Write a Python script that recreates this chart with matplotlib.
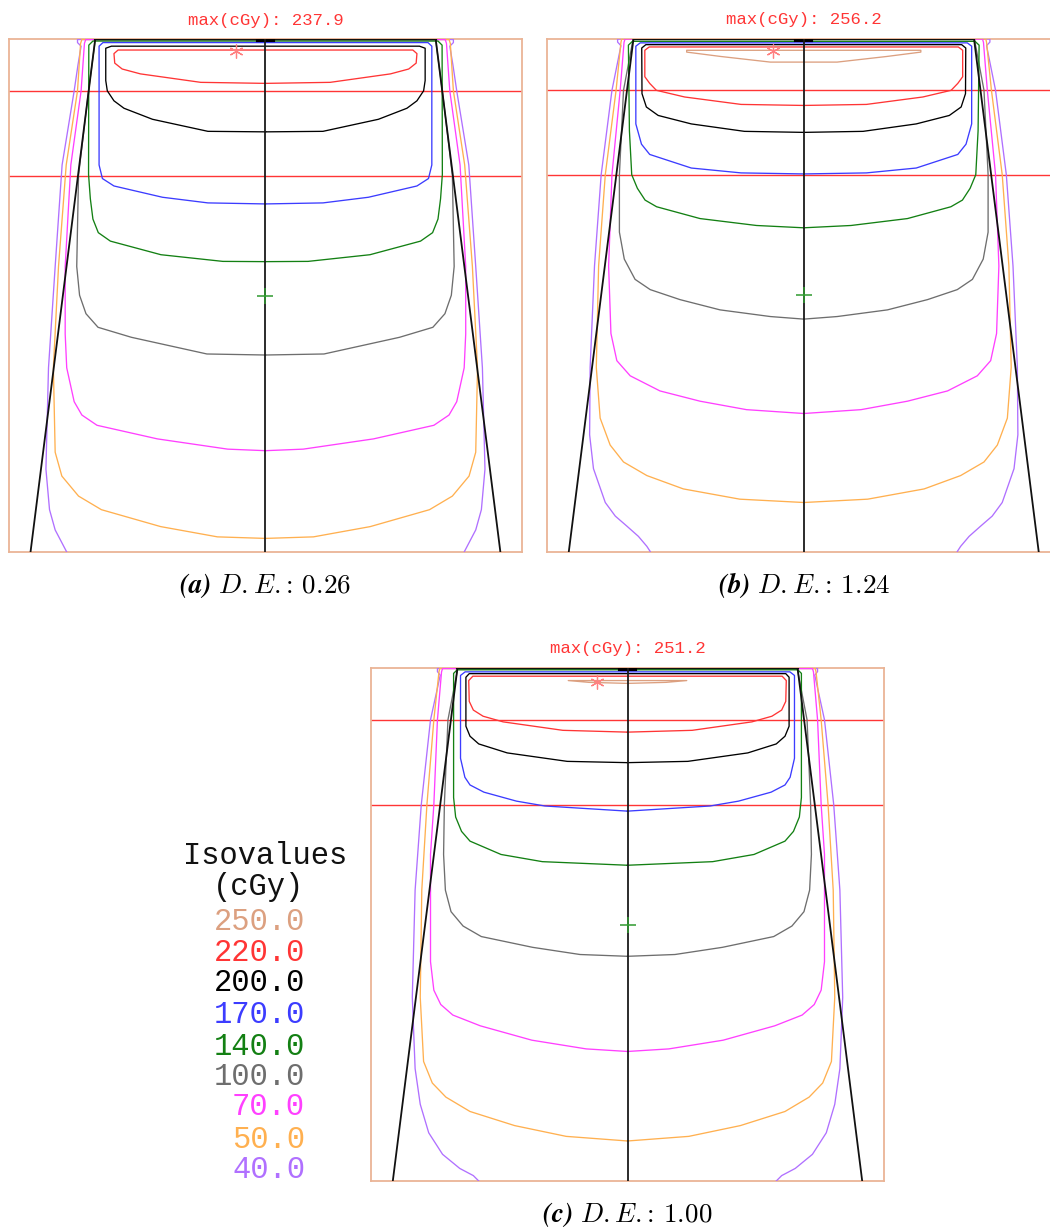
import numpy as np
import matplotlib
matplotlib.use('Agg')
import matplotlib.pyplot as plt

plt.rcParams['mathtext.fontset'] = 'cm'

# ---------------- data ----------------
LEVELS = [250.0, 220.0, 200.0, 170.0, 140.0, 100.0, 70.0, 50.0, 40.0]
LEVEL_COLORS = ['#dca080', '#ff3535', '#000000', '#3c3cff', '#138013',
                '#6e6e6e', '#ff40ff', '#ffb050', '#b070ff']
MAX_DOSE = [237.9, 256.2, 251.2]
DE_VALUES = ['0.26', '1.24', '1.00']
PANEL_TAGS = ['a', 'b', 'c']

RED_LINE_DEPTHS = [2.02, 5.33]          # cm
CROSS_POINT = (0.0, 10.0)               # (x, depth) cm
MAX_POINTS = [(-1.15, 0.46), (-1.19, 0.50), (-1.18, 0.53)]
BEAM_EDGE_HALF = [6.63, 9.15]           # half-width of beam edge
BEAM_EDGE_DEPTH = [0.0, 20.0]
FIELD_X = [-10.0, 10.0]
FIELD_DEPTH = [0.0, 20.0]

# isolines: right-half (half-width cm, depth cm), mirrored about the axis
# ---- panel (a) ----
A_220 = [(0, 0.43), (5.74, 0.43), (5.90, 0.57), (5.87, 0.94), (5.58, 1.17), (4.87, 1.36), (2.52, 1.69), (0, 1.73)]
A_200 = [(0, 0.28), (6.00, 0.28), (6.22, 0.36), (6.22, 1.62), (6.16, 2.02), (5.90, 2.41), (5.51, 2.70), (4.40, 3.13), (2.24, 3.60), (0, 3.62)]
A_170 = [(0, 0.14), (6.33, 0.14), (6.48, 0.28), (6.48, 4.91), (6.35, 5.44), (5.90, 5.73), (4.01, 6.17), (2.24, 6.39), (0, 6.43)]
A_140 = [(0, 0.08), (6.72, 0.08), (6.88, 0.24), (6.89, 5.28), (6.82, 6.23), (6.72, 7.02), (6.51, 7.55), (6.04, 7.88), (4.07, 8.41), (1.66, 8.67), (0, 8.68)]
A_100 = [(0, 0.04), (6.63, 0.04), (6.89, 2.02), (7.28, 5.31), (7.35, 8.87), (7.24, 9.99), (6.99, 10.71), (6.52, 11.24), (5.22, 11.63), (2.28, 12.28), (0, 12.32)]
A_70 = [(0, 0.02), (7.00, 0.02), (7.05, 0.17), (7.18, 2.02), (7.58, 4.91), (7.80, 8.87), (7.80, 11.50), (7.74, 12.82), (7.45, 14.14), (7.15, 14.66), (6.56, 15.06), (4.21, 15.59), (1.47, 15.99), (0, 16.05)]
A_50 = [(0, 0.02), (7.15, 0.02), (7.20, 0.17), (7.32, 2.02), (7.76, 4.91), (8.06, 8.87), (8.26, 12.82), (8.19, 16.11), (7.93, 17.04), (7.28, 17.82), (6.39, 18.35), (4.08, 19.01), (1.87, 19.41), (0, 19.47)]
A_40 = [(0, 0.02), (7.32, 0.02), (7.32, 0.14), (7.18, 0.28), (7.30, 1.00), (7.45, 2.02), (7.92, 4.91), (8.19, 8.87), (8.45, 12.82), (8.55, 16.77), (8.41, 18.35), (8.19, 19.14), (7.74, 20.0)]

# ---- panel (b) ----
B_250 = [(0, 0.46), (4.56, 0.46), (4.56, 0.53), (3.24, 0.70), (1.30, 0.92), (0, 0.92)]
B_220 = [(0, 0.33), (6.02, 0.33), (6.19, 0.46), (6.19, 1.49), (6.00, 1.75), (5.74, 2.02), (4.64, 2.28), (2.44, 2.57), (0, 2.61)]
B_200 = [(0, 0.24), (6.15, 0.24), (6.31, 0.37), (6.30, 2.15), (6.13, 2.67), (5.67, 3.00), (4.38, 3.33), (2.31, 3.62), (0, 3.66)]
B_170 = [(0, 0.17), (6.37, 0.17), (6.54, 0.30), (6.54, 3.33), (6.32, 4.12), (6.00, 4.52), (4.38, 5.05), (2.44, 5.24), (0, 5.28)]
B_140 = [(0, 0.11), (6.67, 0.11), (6.83, 0.26), (6.79, 3.60), (6.70, 5.31), (6.48, 5.84), (6.18, 6.30), (5.73, 6.56), (4.04, 7.02), (1.84, 7.29), (0, 7.38)]
B_100 = [(0, 0.04), (6.65, 0.04), (7.02, 2.02), (7.18, 5.31), (7.18, 7.55), (6.99, 8.60), (6.57, 9.39), (5.98, 9.79), (4.82, 10.18), (3.26, 10.58), (1.30, 10.84), (0, 10.94)]
B_70 = [(0, 0.02), (6.96, 0.02), (7.00, 0.15), (7.15, 2.02), (7.47, 5.31), (7.60, 8.87), (7.51, 11.50), (7.28, 12.56), (6.76, 13.15), (5.60, 13.74), (4.04, 14.14), (2.23, 14.47), (0, 14.62)]
B_50 = [(0, 0.02), (7.09, 0.02), (7.12, 0.15), (7.31, 2.02), (7.73, 5.31), (7.99, 8.87), (8.08, 12.82), (7.93, 14.80), (7.54, 15.85), (7.02, 16.51), (6.11, 17.04), (4.69, 17.56), (2.49, 17.96), (0, 18.09)]
B_40 = [(0, 0.02), (7.25, 0.02), (7.25, 0.14), (7.12, 0.28), (7.47, 2.02), (7.89, 5.31), (8.15, 8.87), (8.32, 12.82), (8.34, 15.45), (8.19, 16.77), (7.73, 18.09), (7.34, 18.62), (6.89, 19.01), (6.44, 19.41), (6.11, 19.80), (5.98, 20.0)]

# ---- panel (c) ----
C_250 = [(0, 0.49), (2.31, 0.49), (1.50, 0.56), (0, 0.60)]
C_220 = [(0, 0.32), (6.03, 0.32), (6.19, 0.49), (6.17, 1.30), (6.01, 1.64), (5.63, 1.88), (4.85, 2.10), (2.52, 2.43), (0, 2.50)]
C_200 = [(0, 0.22), (6.17, 0.22), (6.30, 0.36), (6.30, 2.27), (6.14, 2.66), (5.80, 2.96), (4.69, 3.31), (2.35, 3.64), (0, 3.69)]
C_170 = [(0, 0.15), (6.33, 0.15), (6.51, 0.29), (6.51, 3.52), (6.34, 4.26), (6.14, 4.56), (5.60, 4.84), (4.33, 5.19), (3.22, 5.38), (0, 5.58)]
C_140 = [(0, 0.07), (6.64, 0.07), (6.78, 0.21), (6.78, 5.05), (6.70, 5.81), (6.47, 6.37), (6.14, 6.75), (4.93, 7.27), (3.32, 7.55), (0, 7.69)]
C_100 = [(0, 0.04), (6.62, 0.04), (7.00, 2.02), (7.14, 5.33), (7.17, 7.27), (7.10, 8.66), (6.88, 9.50), (6.41, 10.06), (5.70, 10.47), (3.70, 10.89), (1.85, 11.17), (0, 11.24)]
C_70 = [(0, 0.02), (7.21, 0.02), (7.25, 0.15), (7.41, 2.02), (7.55, 5.33), (7.68, 7.27), (7.68, 11.45), (7.55, 12.56), (7.28, 13.12), (6.81, 13.53), (5.74, 13.95), (3.73, 14.51), (1.61, 14.85), (0, 14.95)]
C_50 = [(0, 0.02), (7.32, 0.02), (7.35, 0.15), (7.55, 2.02), (7.82, 5.33), (8.02, 8.66), (8.08, 12.84), (7.95, 15.34), (7.61, 16.18), (7.08, 16.73), (6.14, 17.29), (4.40, 17.84), (2.39, 18.26), (0, 18.44)]
C_40 = [(0, 0.02), (7.41, 0.02), (7.41, 0.14), (7.30, 0.28), (7.68, 2.02), (8.04, 5.33), (8.28, 8.66), (8.39, 12.84), (8.28, 15.62), (8.08, 17.01), (7.75, 18.12), (7.21, 18.96), (6.54, 19.51), (6.01, 19.79), (5.80, 20.0)]

PANEL_ISOLINES = [
    {220.0: A_220, 200.0: A_200, 170.0: A_170, 140.0: A_140, 100.0: A_100, 70.0: A_70, 50.0: A_50, 40.0: A_40},
    {250.0: B_250, 220.0: B_220, 200.0: B_200, 170.0: B_170, 140.0: B_140, 100.0: B_100, 70.0: B_70, 50.0: B_50, 40.0: B_40},
    {250.0: C_250, 220.0: C_220, 200.0: C_200, 170.0: C_170, 140.0: C_140, 100.0: C_100, 70.0: C_70, 50.0: C_50, 40.0: C_40},
]

# ---------------- layout ----------------
W, H = 1050, 1232
fig = plt.figure(figsize=(W / 100, H / 100), dpi=100)

def axes_px(left, top, w, h):
    return fig.add_axes([left / W, 1 - (top + h) / H, w / W, h / H])

PANEL_BOXES = [(8.7, 39, 513.5, 513), (547, 38.5, 513.5, 513), (371, 668, 513, 513)]
FRAME_COLOR = '#eab496'
color_of = dict(zip(LEVELS, LEVEL_COLORS))

def draw_isoline(ax, pts, color):
    x = np.array([p[0] for p in pts], dtype=float)
    d = np.array([p[1] for p in pts], dtype=float)
    xs = np.concatenate([-x[::-1], x[1:]])
    ds = np.concatenate([d[::-1], d[1:]])
    ax.plot(xs, ds, color=color, lw=0.95, solid_joinstyle='round', zorder=3)

for i, box in enumerate(PANEL_BOXES):
    ax = axes_px(*box)
    ax.set_xlim(*FIELD_X)
    ax.set_ylim(FIELD_DEPTH[1], FIELD_DEPTH[0])
    ax.set_xticks([]); ax.set_yticks([])
    for s in ax.spines.values():
        s.set_color(FRAME_COLOR); s.set_linewidth(1.3)

    # red reference lines
    for dd in RED_LINE_DEPTHS:
        ax.axhline(dd, color='#ff3535', lw=1.0, zorder=2)

    # isolines (outer first)
    for lev in sorted(PANEL_ISOLINES[i].keys()):
        draw_isoline(ax, PANEL_ISOLINES[i][lev], color_of[lev])

    # beam edges
    for sgn in (-1, 1):
        ax.plot([sgn * BEAM_EDGE_HALF[0], sgn * BEAM_EDGE_HALF[1]], BEAM_EDGE_DEPTH,
                color='#111111', lw=1.3, zorder=4)
    # surface line
    ax.plot([-BEAM_EDGE_HALF[0], BEAM_EDGE_HALF[0]], [0.0, 0.0], color='#111111', lw=1.6, zorder=5)
    ax.plot([-0.3, 0.3], [0.04, 0.04], color='#000000', lw=3.0, zorder=5)
    # central axis
    ax.plot([0, 0], FIELD_DEPTH, color='#1a1a1a', lw=1.3, zorder=5)
    # isocentre cross
    ax.plot([CROSS_POINT[0]], [CROSS_POINT[1]], marker='+', ms=12, mew=1.1,
            color='#2f9a2f', zorder=6)
    # max dose point
    ax.plot([MAX_POINTS[i][0]], [MAX_POINTS[i][1]], marker=(6, 2, 0), ms=10, mew=0.9,
            color='#ff8080', zorder=6)

    ax.text(0.5, 1 + 19 / 513, f'max(cGy): {MAX_DOSE[i]:.1f}', transform=ax.transAxes,
            ha='center', va='center', color='#ff3535', family='Liberation Mono', fontsize=12.5)
    caption = (r'$\mathbfit{(' + PANEL_TAGS[i] + r')}\ \mathit{D.E.}\text{: }\mathit{'
               + DE_VALUES[i] + r'}$')
    ax.text(0.5, -34 / 513, caption, transform=ax.transAxes,
            ha='center', va='center', fontsize=19.5)

# legend of isovalues
fig.text(265 / W, 1 - 856 / H, 'Isovalues', ha='center', va='center',
         family='Liberation Mono', fontsize=22, color='#111111')
fig.text(258 / W, 1 - 887 / H, '(cGy)', ha='center', va='center',
         family='Liberation Mono', fontsize=22, color='#111111')
LEG_Y = [922, 953, 983, 1015, 1047, 1077, 1107, 1140, 1170]
for lev, col, yy in zip(LEVELS, LEVEL_COLORS, LEG_Y):
    fig.text(305 / W, 1 - yy / H, f'{lev:.1f}', ha='right', va='center',
             family='Liberation Mono', fontsize=22, color=col)

fig.savefig('out.png', dpi=100)
